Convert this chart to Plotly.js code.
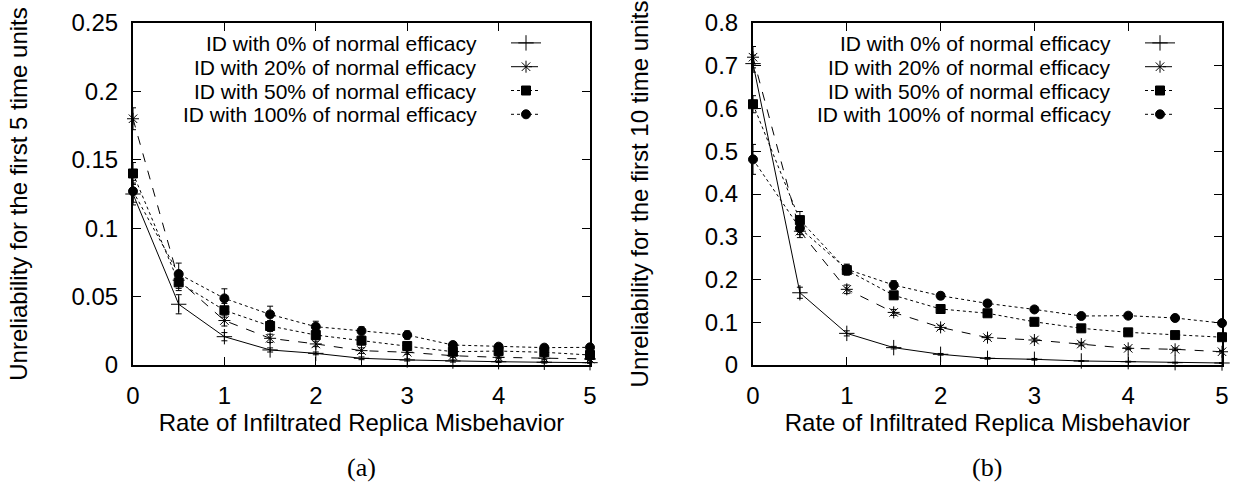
<!DOCTYPE html>
<html>
<head>
<meta charset="utf-8">
<script src="https://cdn.plot.ly/plotly-3.0.1.min.js"></script>
<style>html,body{margin:0;padding:0;background:#fff}#chart{width:1239px;height:488px}</style>
</head>
<body>
<div id="chart"></div>
<script>
// ---- data ----
const rates = [0, 0.5, 1, 1.5, 2, 2.5, 3, 3.5, 4, 4.5, 5];
const seriesNames = ['ID with 0% of normal efficacy', 'ID with 20% of normal efficacy',
                     'ID with 50% of normal efficacy', 'ID with 100% of normal efficacy'];

// (a) first 5 time units
const a0   = [0.125, 0.0444, 0.0207, 0.011, 0.0085, 0.0049, 0.0037, 0.0029, 0.0024, 0.002, 0.0017];
const a20  = [0.18, 0.062, 0.0325, 0.0195, 0.0154, 0.0105, 0.0093, 0.0068, 0.0056, 0.0049, 0.0044];
const a50  = [0.14, 0.0604, 0.040, 0.0285, 0.0219, 0.0178, 0.0139, 0.0097, 0.0102, 0.0093, 0.0073];
const a100 = [0.127, 0.0665, 0.0487, 0.037, 0.028, 0.0249, 0.0219, 0.0146, 0.0134, 0.0127, 0.0129];
const ea0   = [0.008, 0.007, 0.003, 0.0015, 0.001, 0.001, 0.0008, 0.0008, 0.0006, 0.0006, 0.0005];
const ea20  = [0.008, 0.006, 0.004, 0.003, 0.002, 0.002, 0.0015, 0.0012, 0.001, 0.001, 0.001];
const ea50  = [0.008, 0.006, 0.005, 0.004, 0.003, 0.003, 0.002, 0.002, 0.002, 0.0015, 0.0015];
const ea100 = [0.008, 0.008, 0.007, 0.006, 0.004, 0.003, 0.003, 0.002, 0.002, 0.002, 0.002];

// (b) first 10 time units
const b0   = [0.705, 0.169, 0.074, 0.0406, 0.025, 0.0156, 0.0133, 0.0094, 0.0078, 0.0055, 0.0047];
const b20  = [0.72, 0.313, 0.177, 0.123, 0.088, 0.064, 0.0585, 0.049, 0.039, 0.0367, 0.031];
const b50  = [0.61, 0.339, 0.222, 0.163, 0.131, 0.121, 0.101, 0.0858, 0.0764, 0.070, 0.065];
const b100 = [0.481, 0.32, 0.224, 0.187, 0.162, 0.144, 0.130, 0.1146, 0.1154, 0.11, 0.098];
const eb0   = [0.02, 0.013, 0.006, 0.003, 0.002, 0.002, 0.002, 0.001, 0.001, 0.001, 0.001];
const eb20  = [0.025, 0.015, 0.01, 0.007, 0.005, 0.004, 0.004, 0.004, 0.003, 0.003, 0.003];
const eb50  = [0.02, 0.02, 0.012, 0.008, 0.006, 0.006, 0.005, 0.005, 0.004, 0.004, 0.004];
const eb100 = [0.035, 0.015, 0.012, 0.01, 0.008, 0.007, 0.006, 0.005, 0.005, 0.005, 0.005];

const xTitle = 'Rate of Infiltrated Replica Misbehavior';
const yTitleA = 'Unreliability for the first 5 time units';
const yTitleB = 'Unreliability for the first 10 time units';
const panelLabels = ['(a)', '(b)'];

// ---- styles ----
const styles = [
  {dash: 'solid', symbol: 'cross-thin-open', size: 11},
  {dash: 'dash', symbol: 'asterisk-open', size: 10},
  {dash: '3px,3px', symbol: 'square', size: 9},
  {dash: 'dot', symbol: 'circle', size: 9}
];

const FONT = 'Liberation Sans, Arial, Helvetica, sans-serif';
const FS = 24;
const W = 1239, H = 488;

function makeTraces(ys, es, xa, ya, leg) {
  return ys.map((y, i) => ({
    type: 'scatter', mode: 'lines+markers',
    x: rates, y: y, xaxis: xa, yaxis: ya, legend: leg,
    name: ' ',
    cliponaxis: false,
    line: {color: 'black', width: 1, dash: styles[i].dash},
    marker: {color: 'black', symbol: styles[i].symbol, size: styles[i].size,
             line: {color: 'black', width: 1}},
    error_y: {type: 'data', array: es[i], visible: true, color: 'black', thickness: 1, width: 3}
  }));
}

const traces = [].concat(
  makeTraces([a0, a20, a50, a100], [ea0, ea20, ea50, ea100], 'x', 'y', 'legend'),
  makeTraces([b0, b20, b50, b100], [eb0, eb20, eb50, eb100], 'x2', 'y2', 'legend2')
);

function xaxis(domain, anchor) {
  return {
    domain: domain, anchor: anchor, range: [0, 5], dtick: 1, tick0: 0,
    showline: true, linecolor: 'black', linewidth: 2, mirror: 'allticks',
    ticks: 'inside', ticklen: 8, tickwidth: 1, tickcolor: 'black',
    showgrid: false, zeroline: false, ticklabelstandoff: 8,
    tickfont: {family: FONT, size: FS, color: 'black'},
    title: {text: xTitle, font: {family: FONT, size: FS, color: 'black'}, standoff: 4}
  };
}
function yaxis(domain, anchor, range, dtick, title, standoff) {
  return {
    domain: domain, anchor: anchor, range: range, dtick: dtick, tick0: 0,
    showline: true, linecolor: 'black', linewidth: 2, mirror: 'allticks',
    ticks: 'inside', ticklen: 8, tickwidth: 1, tickcolor: 'black',
    showgrid: false, zeroline: false, ticklabelstandoff: 8,
    tickfont: {family: FONT, size: FS, color: 'black'},
    title: {text: title, font: {family: FONT, size: FS, color: 'black'}, standoff: standoff}
  };
}

const yDom = [(H - 365) / H, (H - 23) / H];
const xDomA = [133 / W, 590 / W];
const xDomB = [753 / W, 1222 / W];

const legendBase = {
  bgcolor: 'rgba(0,0,0,0)', borderwidth: 0, font: {family: FONT, size: 16, color: 'black'},
  xanchor: 'left', yanchor: 'top', itemwidth: 30, tracegroupgap: 0
};

const LFS = 21;
const rowYs = [43, 67, 91, 115];
const annotations = [];
seriesNames.forEach((n, i) => {
  annotations.push({xref: 'paper', yref: 'paper', x: 478 / W, y: 1 - rowYs[i] / H,
    xanchor: 'right', yanchor: 'middle', showarrow: false, text: n, borderpad: 0,
    font: {family: FONT, size: LFS, color: 'black'}});
  annotations.push({xref: 'paper', yref: 'paper', x: 1112 / W, y: 1 - rowYs[i] / H,
    xanchor: 'right', yanchor: 'middle', showarrow: false, text: n, borderpad: 0,
    font: {family: FONT, size: LFS, color: 'black'}});
});
annotations.push({xref: 'paper', yref: 'paper', x: 361 / W, y: 1 - 467 / H, xanchor: 'center', yanchor: 'middle',
  showarrow: false, text: panelLabels[0], font: {family: 'Liberation Serif, DejaVu Serif, serif', size: 26, color: 'black'}});
annotations.push({xref: 'paper', yref: 'paper', x: 987 / W, y: 1 - 467 / H, xanchor: 'center', yanchor: 'middle',
  showarrow: false, text: panelLabels[1], font: {family: 'Liberation Serif, DejaVu Serif, serif', size: 26, color: 'black'}});

const layout = {
  width: W, height: H, margin: {l: 0, r: 0, t: 0, b: 0},
  paper_bgcolor: 'white', plot_bgcolor: 'white',
  showlegend: true,
  xaxis: xaxis(xDomA, 'y'),
  yaxis: yaxis(yDom, 'x', [0, 0.25], 0.05, yTitleA, 37),
  xaxis2: xaxis(xDomB, 'y2'),
  yaxis2: yaxis(yDom, 'x2', [0, 0.8], 0.1, yTitleB, 49),
  legend: Object.assign({}, legendBase, {x: 506 / W, y: 1 - 26 / H}),
  legend2: Object.assign({}, legendBase, {x: 1140 / W, y: 1 - 26 / H}),
  annotations: annotations
};

Plotly.newPlot('chart', traces, layout, {staticPlot: true, displayModeBar: false});
</script>
</body>
</html>
